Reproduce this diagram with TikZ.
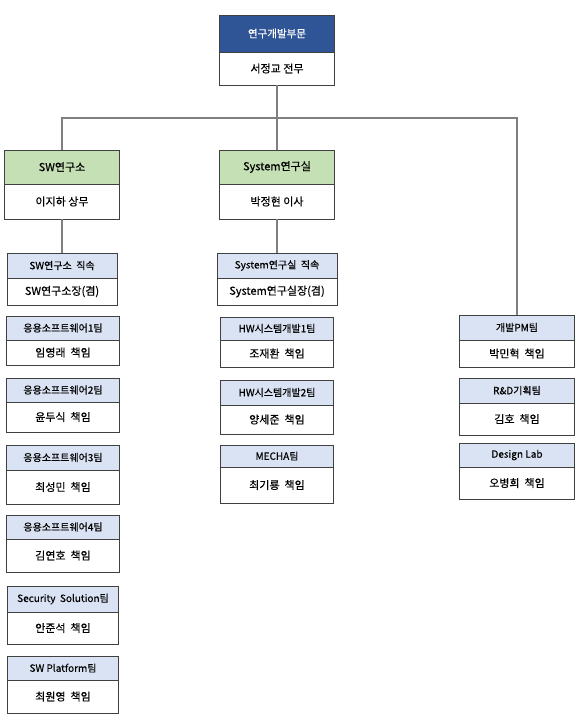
\documentclass[tikz,border=0pt]{standalone}
\usepackage{fontspec}
\setmainfont{Noto Sans CJK KR}[BoldFont={Noto Sans CJK KR}, BoldFeatures={FakeBold=0.4}]
\usetikzlibrary{positioning}
\definecolor{topblue}{HTML}{2F5597}
\definecolor{labgreen}{HTML}{C5E0B4}
\definecolor{teamblue}{HTML}{DAE3F3}
\definecolor{boxline}{HTML}{404040}
\definecolor{linkgray}{HTML}{7F7F7F}
\tikzset{
  cell/.style={
    draw=boxline,
    line width=0.9pt,
    outer sep=0pt,
    inner sep=1pt,
    align=center,
    minimum width=113pt,
    fill=white
  },
  head/.style={
    cell,
    anchor=north,
    fill=teamblue,
    minimum height=24pt,
    font=\fontsize{10}{12}\selectfont\bfseries
  },
  body/.style={
    cell,
    font=\fontsize{11}{13}\selectfont\bfseries
  },
  labhead/.style={
    head,
    fill=labgreen,
    minimum width=115pt,
    minimum height=34pt,
    font=\fontsize{11}{13}\selectfont\bfseries
  },
  tophead/.style={
    labhead,
    fill=topblue,
    minimum height=37pt,
    text=white,
    font=\fontsize{10.5}{13}\selectfont\bfseries
  },
  link/.style={
    draw=linkgray,
    line width=1.3pt
  }
}

\begin{document}
\begin{tikzpicture}[x=1pt,y=-1pt]
  \useasboundingbox (0,0) rectangle (581,722);

  % head office
  \node[tophead] (rnd-h) at (277,15) {연구개발부문};
  \node[body, minimum width=115pt, minimum height=33pt, below=0pt of rnd-h] (rnd) {서정교 전무};

  % labs
  \node[labhead] (sw-h) at (62,150) {SW연구소};
  \node[body, minimum width=115pt, minimum height=35pt, below=0pt of sw-h] (sw) {이지하 상무};
  \node[labhead] (sys-h) at (277,150) {System연구실};
  \node[body, minimum width=115pt, minimum height=35pt, below=0pt of sys-h] (sys) {박정현 이사};

  % SW teams
  \node[head, minimum width=110pt, minimum height=25pt] (swd-h) at (62,253) {SW연구소~~직속};
  \node[body, minimum width=110pt, minimum height=27pt, below=0pt of swd-h] (swd) {SW연구소장(겸)};
  \node[head] (app1-h) at (63,316) {응용소프트웨어1팀};
  \node[body, minimum height=25pt, below=0pt of app1-h] (app1) {임영래~~책임};
  \node[head] (app2-h) at (63,378) {응용소프트웨어2팀};
  \node[body, minimum height=30pt, below=0pt of app2-h] (app2) {윤두식~~책임};
  \node[head, minimum height=25pt] (app3-h) at (63,445) {응용소프트웨어3팀};
  \node[body, minimum height=34pt, below=0pt of app3-h] (app3) {최성민~~책임};
  \node[head] (app4-h) at (63,515) {응용소프트웨어4팀};
  \node[body, minimum height=33pt, below=0pt of app4-h] (app4) {김연호~~책임};
  \node[head, minimum width=111pt, minimum height=26pt] (sec-h) at (63,586) {Security~~Solution팀};
  \node[body, minimum width=111pt, minimum height=32pt, below=0pt of sec-h] (sec) {안준석~~책임};
  \node[head, minimum width=111pt] (plat-h) at (63,656) {SW Platform팀};
  \node[body, minimum width=111pt, minimum height=33pt, below=0pt of plat-h] (plat) {최원영~~책임};

  % System teams
  \node[head, minimum width=120pt, minimum height=25pt] (sysd-h) at (277,253) {System연구실~~직속};
  \node[body, minimum width=120pt, minimum height=27pt, below=0pt of sysd-h] (sysd) {System연구실장(겸)};
  \node[head, minimum height=23pt] (hw1-h) at (277,317) {HW시스템개발1팀};
  \node[body, minimum height=27pt, below=0pt of hw1-h] (hw1) {조재환~~책임};
  \node[head, minimum height=25pt] (hw2-h) at (277,380) {HW시스템개발2팀};
  \node[body, minimum height=29pt, below=0pt of hw2-h] (hw2) {양세준~~책임};
  \node[head, minimum height=22pt] (mecha-h) at (277,445) {MECHA팀};
  \node[body, minimum height=36pt, below=0pt of mecha-h] (mecha) {최기룡~~책임};

  % direct teams
  \node[head, minimum width=115pt, minimum height=25pt] (pm-h) at (517,315) {개발PM팀};
  \node[body, minimum width=115pt, minimum height=27pt, below=0pt of pm-h] (pm) {박민혁~~책임};
  \node[head, minimum width=115pt, minimum height=25pt] (plan-h) at (517,378) {R\&D기획팀};
  \node[body, minimum width=115pt, minimum height=32pt, below=0pt of plan-h] (plan) {김호~~책임};
  \node[head, minimum width=115pt, minimum height=24pt] (dl-h) at (517,443) {Design Lab};
  \node[body, minimum width=115pt, minimum height=32pt, below=0pt of dl-h] (dl) {오병희~~책임};

  % connectors
  \coordinate (bus) at (277,118);
  \draw[link] (rnd) -- (bus);
  \draw[link] (bus) -| (sw-h.north);
  \draw[link] (bus) -- (sys-h);
  \draw[link] (bus) -| (pm-h.north);
  \draw[link] (sw) -- (swd-h);
  \draw[link] (sys) -- (sysd-h);
\end{tikzpicture}
\end{document}
